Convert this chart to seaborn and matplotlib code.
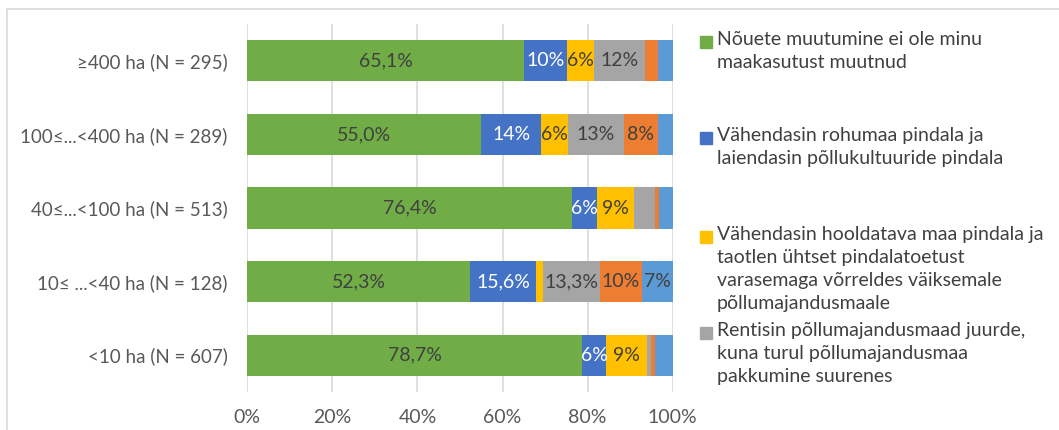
import numpy as np
import pandas as pd
import matplotlib
matplotlib.use("Agg")
import matplotlib.pyplot as plt
import seaborn as sns
from matplotlib.patches import Rectangle

# Categories (top to bottom)
categories = ["≥400 ha (N = 295)", "100≤...<400 ha (N = 289)", "40≤...<100 ha (N = 513)",
              "10≤ ...<40 ha (N = 128)", "<10 ha (N = 607)"]

# Shares (%) per answer
no_change = [65.1, 55.0, 76.4, 52.3, 78.7]
less_grass = [10.0, 14.0, 5.8, 15.6, 5.7]
less_land = [6.5, 6.4, 8.7, 1.6, 9.5]
rented_more = [11.9, 13.1, 4.9, 13.3, 1.0]
other_1 = [3.0, 8.0, 1.0, 10.1, 0.9]
other_2 = [3.5, 3.5, 3.2, 7.1, 4.2]

# Data labels as printed on the bars ("" = no label)
no_change_lbl = ["65,1%", "55,0%", "76,4%", "52,3%", "78,7%"]
less_grass_lbl = ["10%", "14%", "6%", "15,6%", "6%"]
less_land_lbl = ["6%", "6%", "9%", "", "9%"]
rented_more_lbl = ["12%", "13%", "", "13,3%", ""]
other_1_lbl = ["", "8%", "", "10%", ""]
other_2_lbl = ["", "", "", "7%", ""]

legend_labels = [
    "Nõuete muutumine ei ole minu\nmaakasutust muutnud",
    "Vähendasin rohumaa pindala ja\nlaiendasin põllukultuuride pindala",
    "Vähendasin hooldatava maa pindala ja\ntaotlen ühtset pindalatoetust\nvarasemaga võrreldes väiksemale\npõllumajandusmaale",
    "Rentisin põllumajandusmaad juurde,\nkuna turul põllumajandusmaa\npakkumine suurenes",
]

xticks = [0, 20, 40, 60, 80, 100]
xtick_labels = ["0%", "20%", "40%", "60%", "80%", "100%"]

series = [no_change, less_grass, less_land, rented_more, other_1, other_2]
labels = [no_change_lbl, less_grass_lbl, less_land_lbl, rented_more_lbl, other_1_lbl, other_2_lbl]
colors = ["#70AD47", "#4472C4", "#FFC000", "#A5A5A5", "#ED7D31", "#5B9BD5"]
text_colors = ["#404040", "#FFFFFF", "#404040", "#404040", "#404040", "#404040"]

sns.set_theme(style="white")
plt.rcParams["font.family"] = ["Lato", "DejaVu Sans"]

fig = plt.figure(figsize=(10.59, 4.30), dpi=100)
ax = fig.add_axes([247.3 / 1059, 1 - 392 / 430, 425.4 / 1059, 368 / 430])

vals = np.array(series)
cum = np.cumsum(vals, axis=0)

# stacked bars: draw cumulative totals from the widest down
for i in range(len(series) - 1, -1, -1):
    df = pd.DataFrame({"cat": categories, "val": cum[i]})
    sns.barplot(data=df, x="val", y="cat", orient="h", color=colors[i],
                saturation=1, width=0.56, linewidth=0, ax=ax, zorder=2)

# data labels
for i in range(len(series)):
    for j, cat in enumerate(categories):
        if labels[i][j]:
            xc = cum[i][j] - vals[i][j] / 2
            ax.text(xc, j, labels[i][j], ha="center", va="center",
                    fontsize=14, color=text_colors[i], zorder=3)

ax.set_xlim(0, 100)
ax.set_ylim(len(categories) - 0.5, -0.5)
ax.set_xticks(xticks)
ax.set_xticklabels(xtick_labels)
ax.xaxis.grid(True, color="#D9D9D9", linewidth=1.2, zorder=0)
ax.set_axisbelow(True)
ax.set_xlabel("")
ax.set_ylabel("")
for s in ax.spines.values():
    s.set_visible(False)
ax.tick_params(axis="x", length=0, pad=12, labelsize=14, labelcolor="#595959")
ax.tick_params(axis="y", length=0, pad=14, labelsize=13.5, labelcolor="#595959")

# legend (only the first four entries are visible in the original)
leg_y = [42, 138, 237, 333]
for k, lab in enumerate(legend_labels):
    yf = 1 - leg_y[k] / 430
    fig.patches.append(Rectangle((700 / 1059, yf - 6 / 430), 12 / 1059, 12 / 430,
                                 transform=fig.transFigure, color=colors[k], figure=fig))
    fig.text(717 / 1059, yf + 11 / 430, lab, ha="left", va="top", fontsize=14,
             color="#404040", linespacing=1.42)

# chart frame
fig.patches.append(Rectangle((7 / 1059, -0.1), 1.2, 1.1 - 9 / 430,
                             transform=fig.transFigure, fill=False,
                             edgecolor="#D9D9D9", linewidth=1.2, figure=fig))

fig.savefig("out.png", dpi=100)
